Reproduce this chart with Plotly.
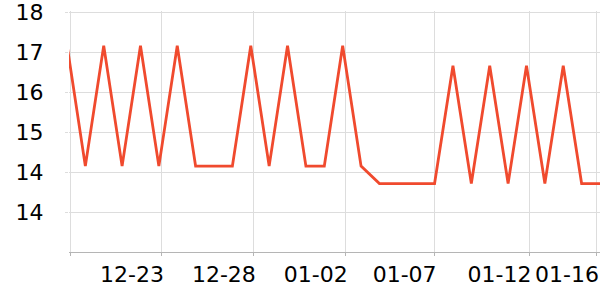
import plotly.graph_objects as go

# Data
dates = [
    "2023-12-17 20:00", "2023-12-18 20:00", "2023-12-19 20:00", "2023-12-20 20:00",
    "2023-12-21 20:00", "2023-12-22 20:00", "2023-12-23 20:00", "2023-12-24 20:00",
    "2023-12-25 20:00", "2023-12-26 20:00", "2023-12-27 20:00", "2023-12-28 20:00",
    "2023-12-29 20:00", "2023-12-30 20:00", "2023-12-31 20:00", "2024-01-01 20:00",
    "2024-01-02 20:00", "2024-01-03 20:00", "2024-01-04 20:00", "2024-01-05 20:00",
    "2024-01-06 20:00", "2024-01-07 20:00", "2024-01-08 20:00", "2024-01-09 20:00",
    "2024-01-10 20:00", "2024-01-11 20:00", "2024-01-12 20:00", "2024-01-13 20:00",
    "2024-01-14 20:00", "2024-01-15 20:00",
]
values = [
    16.95, 14.52, 16.93, 14.52, 16.93, 14.52, 16.93, 14.52,
    14.52, 14.52, 16.93, 14.52, 16.93, 14.52, 14.52, 16.93,
    14.52, 14.17, 14.17, 14.17, 14.17, 16.53, 14.17, 16.53,
    14.17, 16.53, 14.17, 16.53, 14.17, 14.17,
]

x_tickvals = ["2023-12-18 00:00", "2023-12-23 00:00", "2023-12-28 00:00",
              "2024-01-02 00:00", "2024-01-06 20:00", "2024-01-12 00:00",
              "2024-01-15 16:00"]
x_ticktext = ["", "12-23", "12-28", "01-02", "01-07", "01-12", "01-16"]
y_tickvals = [13.6, 14.4, 15.2, 16.0, 16.8, 17.6]

font = dict(family="DejaVu Sans", size=22, color="#000000")

fig = go.Figure()
fig.add_trace(go.Scatter(
    x=dates, y=values, mode="lines",
    line=dict(color="#F04A2E", width=2.8),
    hoverinfo="skip", showlegend=False,
))

fig.update_layout(
    width=600, height=300,
    margin=dict(l=69, r=0, t=9, b=48),
    paper_bgcolor="white", plot_bgcolor="white",
    font=font,
)
fig.update_xaxes(
    type="date",
    range=["2023-12-17 22:40", "2024-01-15 20:00"],
    tickvals=x_tickvals, ticktext=x_ticktext,
    ticklabelposition="outside left", tickangle=0,
    ticklabelshift=3, ticklabelstandoff=3,
    ticklabeloverflow="allow",
    showgrid=True, gridcolor="#DDDDDD", gridwidth=1,
    showline=True, linecolor="#B5B5B5", linewidth=1,
    ticks="outside", ticklen=3, tickcolor="#B5B5B5",
    zeroline=False, tickfont=font,
)
fig.update_yaxes(
    range=[12.8, 17.625],
    tickvals=y_tickvals, tickformat=".0f",
    showgrid=True, gridcolor="#DDDDDD", gridwidth=1,
    showline=False, zeroline=False,
    ticks="outside", ticklen=3, tickcolor="#DDDDDD",
    ticklabelstandoff=17, ticklabeloverflow="allow",
    tickfont=font,
)

fig.write_html("out.html")
